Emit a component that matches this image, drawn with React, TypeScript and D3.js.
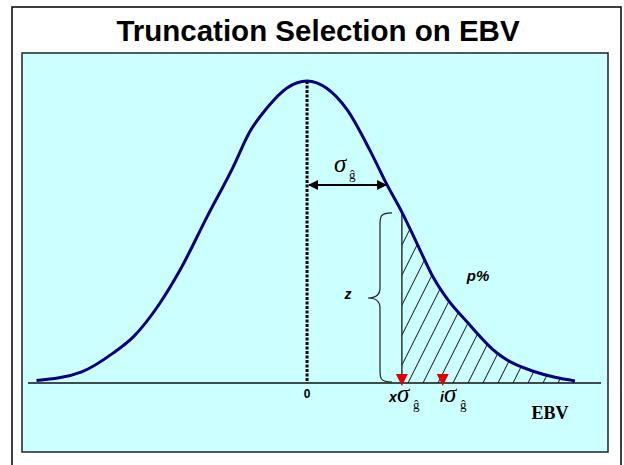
import React from "react";
import * as d3 from "d3";

// Curve: x in sigma units, y relative height (peak = 1)
const curveX = [-3.11, -2.59, -2.23, -2.0, -1.69, -1.46, -1.15, -0.85, -0.66, -0.46, -0.23, 0, 0.23, 0.46, 0.72, 0.92, 1.09, 1.26, 1.45, 1.62, 1.84, 2.18, 2.3, 2.6, 2.85, 3.08];
const curveY = [0.008, 0.037, 0.099, 0.152, 0.265, 0.374, 0.55, 0.715, 0.831, 0.911, 0.977, 1.0, 0.975, 0.905, 0.772, 0.656, 0.566, 0.464, 0.35, 0.275, 0.202, 0.1, 0.076, 0.039, 0.019, 0.007];

const meanX = [0];
const sigmaArrow = [0, 0.92];
const truncationX = [1.09];
const intensityX = [1.56];
const truncationHeight = [0.563];
const titleText = ["Truncation Selection on EBV"];
const axisLabel = ["EBV"];

export default function App() {
  const W = 624, H = 465;
  const x = d3.scaleLinear().domain([-3.11, 3.08]).range([36.5, 575]);
  const y = d3.scaleLinear().domain([0, 1]).range([383, 81]);

  const pts: [number, number][] = curveX.map((v, i) => [v, curveY[i]]);
  const line = d3.line<[number, number]>().x(d => x(d[0])).y(d => y(d[1])).curve(d3.curveMonotoneX);
  const tailPts = pts.filter(d => d[0] >= truncationX[0]);
  const area = d3.area<[number, number]>().x(d => x(d[0])).y0(y(0)).y1(d => y(d[1])).curve(d3.curveMonotoneX);

  const base = y(0);
  const tx = x(truncationX[0]);
  const ix = x(intensityX[0]);
  const mx = x(meanX[0]);
  const hatch = d3.range(303, 620, 15);

  const ay = 185;
  const ax0 = x(sigmaArrow[0]) + 1;
  const ax1 = x(sigmaArrow[1]);
  const topT = y(truncationHeight[0]);

  const braceX = 380, braceTip = 368, braceEnd = 392;
  const bTop = topT, bBot = base - 1, bMid = 298;
  const brace = `M${braceEnd},${bTop} C${braceX},${bTop} ${braceX},${bTop + 4} ${braceX},${bTop + 12} L${braceX},${bMid - 10} C${braceX},${bMid - 3} ${braceX - 4},${bMid} ${braceTip},${bMid} C${braceX - 4},${bMid} ${braceX},${bMid + 3} ${braceX},${bMid + 10} L${braceX},${bBot - 12} C${braceX},${bBot - 4} ${braceX},${bBot} ${braceEnd},${bBot}`;

  const tri = (cx: number) => `M${cx - 6},${374} L${cx + 6},${374} L${cx},${386} Z`;
  const serif = "'Liberation Serif', 'Times New Roman', serif";

  return (
    <svg width={W} height={H} style={{ position: "absolute", left: 0, top: 0, background: "#fff" }} fontFamily="Arial, 'Liberation Sans', sans-serif">
      <defs>
        <clipPath id="tailClip">
          <path d={area(tailPts) || ""} />
        </clipPath>
        <marker id="ah" viewBox="0 0 10 10" refX="9" refY="5" markerWidth="5" markerHeight="5" orient="auto-start-reverse">
          <path d="M0,0 L10,5 L0,10 Z" fill="#000" />
        </marker>
      </defs>
      <rect x={12} y={7} width={609} height={470} fill="#fff" stroke="#000" strokeWidth={1.5} />
      <text x={318} y={41} textAnchor="middle" fontSize={29.5} fontWeight="bold" fill="#000">{titleText[0]}</text>
      <rect x={22} y={53} width={586} height={399} fill="#CCFFFF" stroke="#222" strokeWidth={1.5} />

      {/* hatch */}
      <g clipPath="url(#tailClip)">
        {hatch.map(b => (
          <line key={b} x1={b} y1={base} x2={b + (base - 60) / 2} y2={60} stroke="#111" strokeWidth={1} />
        ))}
      </g>

      {/* baseline */}
      <line x1={28} x2={601} y1={base} y2={base} stroke="#111" strokeWidth={1.5} />

      {/* mean line */}
      <line x1={mx} x2={mx} y1={y(1)} y2={base} stroke="#000" strokeWidth={3} strokeDasharray="3 1.5" />

      {/* truncation line */}
      <line x1={tx} x2={tx} y1={topT} y2={base} stroke="#333" strokeWidth={1.5} />

      {/* curve */}
      <path d={line(pts) || ""} fill="none" stroke="#00007F" strokeWidth={3} />

      {/* sigma arrow */}
      <line x1={ax0 + 1} x2={ax1 - 1} y1={ay} y2={ay} stroke="#000" strokeWidth={2} markerStart="url(#ah)" markerEnd="url(#ah)" />
      <text x={334} y={172} fontFamily={serif} fontStyle="italic" fontSize={25} fill="#000">σ</text>
      <text x={349} y={179} fontFamily={serif} fontSize={13} fill="#000">ĝ</text>

      {/* brace */}
      <path d={brace} fill="none" stroke="#222" strokeWidth={1.2} />
      <text x={348} y={299} textAnchor="middle" fontSize={14} fontWeight="bold" fontStyle="italic" fill="#000">z</text>
      <text x={478} y={281} textAnchor="middle" fontSize={15} fontWeight="bold" fontStyle="italic" fill="#000">p%</text>

      {/* markers */}
      <path d={tri(tx)} fill="#E00000" />
      <path d={tri(ix)} fill="#E00000" />

      {/* labels */}
      <text x={mx} y={398} textAnchor="middle" fontSize={12} fontWeight="bold" fill="#000">0</text>
      <text x={389} y={402} fontSize={14} fontWeight="bold" fontStyle="italic" fill="#000">x</text>
      <text x={397} y={402} fontFamily={serif} fontStyle="italic" fontSize={25} fill="#000">σ</text>
      <text x={413} y={409} fontFamily={serif} fontSize={13} fill="#000">ĝ</text>
      <text x={440} y={402} fontSize={14} fontWeight="bold" fontStyle="italic" fill="#000">i</text>
      <text x={444} y={402} fontFamily={serif} fontStyle="italic" fontSize={25} fill="#000">σ</text>
      <text x={460} y={409} fontFamily={serif} fontSize={13} fill="#000">ĝ</text>
      <text x={550} y={419} textAnchor="middle" fontFamily={serif} fontWeight="bold" fontSize={18} fill="#000">{axisLabel[0]}</text>
    </svg>
  );
}
